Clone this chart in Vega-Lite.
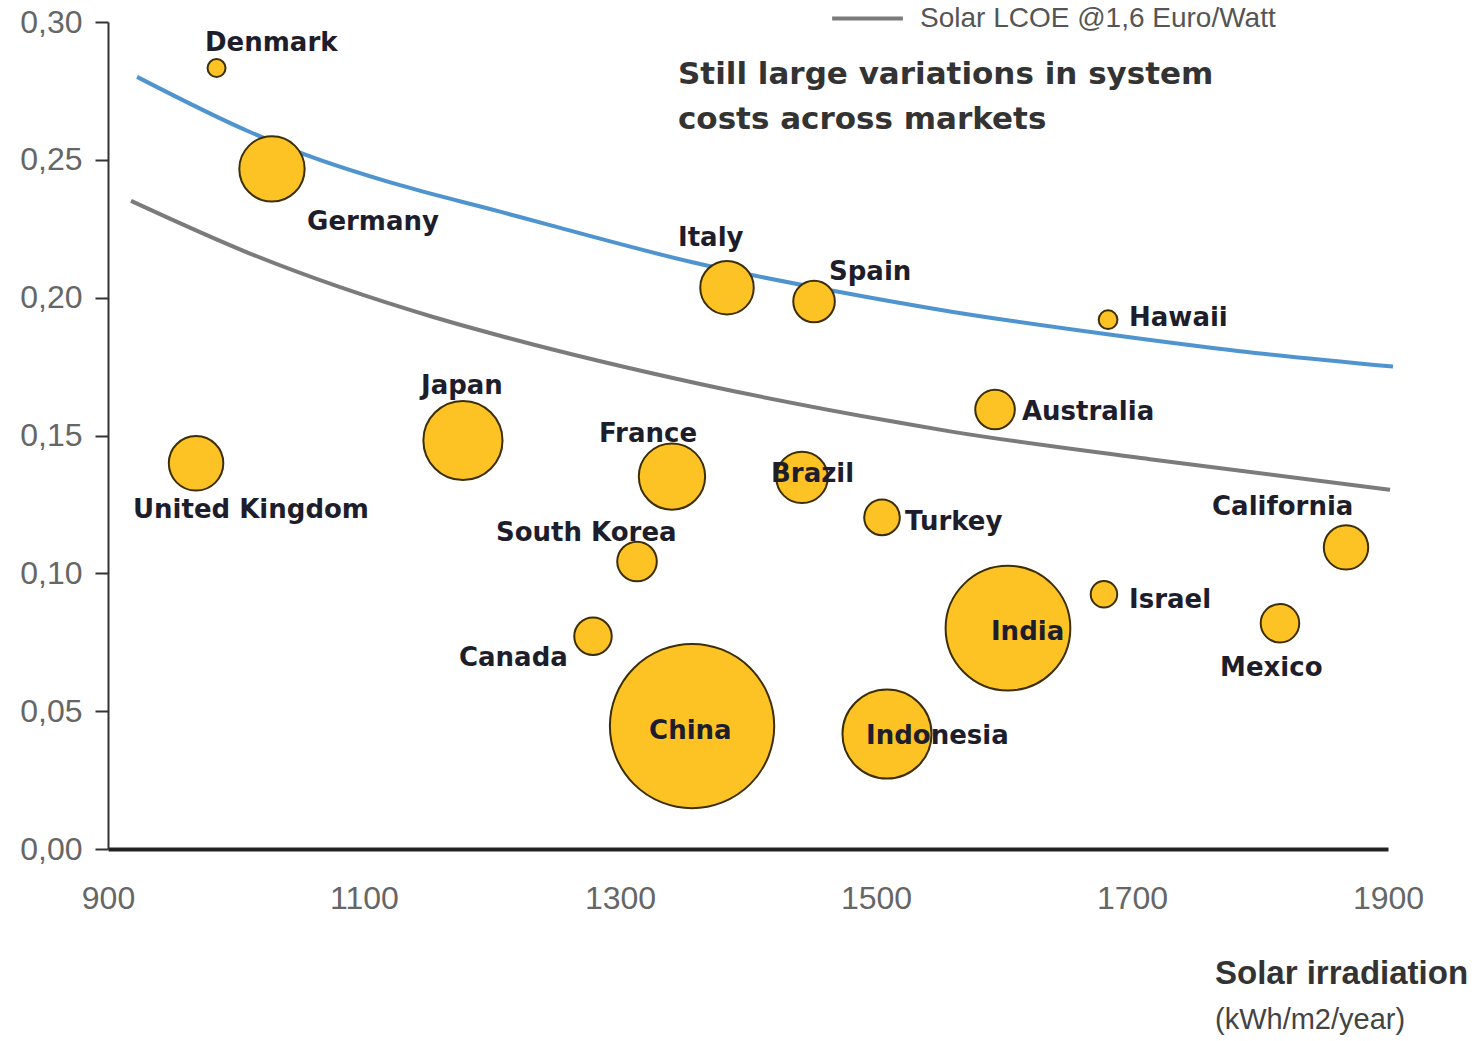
{
  "$schema": "https://vega.github.io/schema/vega-lite/v6.json",
  "width": 1280,
  "height": 827,
  "autosize": {"type": "none"},
  "padding": {"left": 108, "top": 22, "right": 96, "bottom": 192},
  "background": "white",
  "config": {"view": {"stroke": null}},
  "title": {
    "text": "Solar irradiation",
    "subtitle": "(kWh/m2/year)",
    "orient": "bottom",
    "anchor": "end",
    "align": "left",
    "frame": "group",
    "dx": -173,
    "offset": 44,
    "font": "Liberation Sans",
    "fontSize": 33,
    "fontWeight": "bold",
    "color": "#333333",
    "subtitleFont": "Liberation Sans",
    "subtitleFontSize": 29,
    "subtitleColor": "#444444",
    "subtitlePadding": 15
  },
  "datasets": {
    "markets": [
      {"country": "Denmark", "irr": 984.8, "lcoe": 0.2833, "market": 1.2, "lx": 975.8, "ly": 0.2924},
      {"country": "Germany", "irr": 1028.1, "lcoe": 0.2467, "market": 15.8, "lx": 1055.5, "ly": 0.2275},
      {"country": "United Kingdom", "irr": 968.8, "lcoe": 0.1399, "market": 11.0, "lx": 919.5, "ly": 0.1228},
      {"country": "Japan", "irr": 1177.3, "lcoe": 0.1482, "market": 23.2, "lx": 1144.5, "ly": 0.1681},
      {"country": "France", "irr": 1340.6, "lcoe": 0.1351, "market": 16.3, "lx": 1283.6, "ly": 0.1507},
      {"country": "South Korea", "irr": 1313.3, "lcoe": 0.1043, "market": 5.8, "lx": 1203.1, "ly": 0.1145},
      {"country": "Canada", "irr": 1278.9, "lcoe": 0.0772, "market": 5.2, "lx": 1174.2, "ly": 0.0692},
      {"country": "China", "irr": 1356.3, "lcoe": 0.0446, "market": 100, "lx": 1322.7, "ly": 0.0428},
      {"country": "Italy", "irr": 1383.6, "lcoe": 0.2036, "market": 10.6, "lx": 1345.3, "ly": 0.2217},
      {"country": "Spain", "irr": 1451.6, "lcoe": 0.1986, "market": 6.4, "lx": 1463.3, "ly": 0.2094},
      {"country": "Brazil", "irr": 1442.2, "lcoe": 0.1348, "market": 9.8, "lx": 1418.0, "ly": 0.1362},
      {"country": "Turkey", "irr": 1504.7, "lcoe": 0.1203, "market": 4.7, "lx": 1522.7, "ly": 0.1188},
      {"country": "Indonesia", "irr": 1508.6, "lcoe": 0.0417, "market": 29.4, "lx": 1492.2, "ly": 0.0409},
      {"country": "India", "irr": 1603.1, "lcoe": 0.0801, "market": 57.6, "lx": 1589.8, "ly": 0.0786},
      {"country": "Australia", "irr": 1593.0, "lcoe": 0.1594, "market": 5.8, "lx": 1614.0, "ly": 0.1587},
      {"country": "Hawaii", "irr": 1681.3, "lcoe": 0.1920, "market": 1.3, "lx": 1697.7, "ly": 0.1928},
      {"country": "Israel", "irr": 1678.1, "lcoe": 0.0924, "market": 2.6, "lx": 1697.7, "ly": 0.0902},
      {"country": "Mexico", "irr": 1815.6, "lcoe": 0.0819, "market": 5.5, "lx": 1768.8, "ly": 0.0656},
      {"country": "California", "irr": 1867.2, "lcoe": 0.1094, "market": 7.3, "lx": 1762.5, "ly": 0.1239}
    ],
    "curves": [
      {"series": "Solar LCOE (upper)", "irr": 922.7, "lcoe": 0.2801},
      {"series": "Solar LCOE (upper)", "irr": 1010.9, "lcoe": 0.2601},
      {"series": "Solar LCOE (upper)", "irr": 1053.1, "lcoe": 0.2521},
      {"series": "Solar LCOE (upper)", "irr": 1128.1, "lcoe": 0.2408},
      {"series": "Solar LCOE (upper)", "irr": 1206.3, "lcoe": 0.2312},
      {"series": "Solar LCOE (upper)", "irr": 1245.3, "lcoe": 0.2263},
      {"series": "Solar LCOE (upper)", "irr": 1362.5, "lcoe": 0.2122},
      {"series": "Solar LCOE (upper)", "irr": 1466.4, "lcoe": 0.2025},
      {"series": "Solar LCOE (upper)", "irr": 1557.8, "lcoe": 0.1950},
      {"series": "Solar LCOE (upper)", "irr": 1675.0, "lcoe": 0.1871},
      {"series": "Solar LCOE (upper)", "irr": 1784.4, "lcoe": 0.1806},
      {"series": "Solar LCOE (upper)", "irr": 1903.9, "lcoe": 0.1750},
      {"series": "Solar LCOE @1,6 Euro/Watt", "irr": 918.0, "lcoe": 0.2351},
      {"series": "Solar LCOE @1,6 Euro/Watt", "irr": 1010.9, "lcoe": 0.2160},
      {"series": "Solar LCOE @1,6 Euro/Watt", "irr": 1154.0, "lcoe": 0.1930},
      {"series": "Solar LCOE @1,6 Euro/Watt", "irr": 1206.3, "lcoe": 0.1862},
      {"series": "Solar LCOE @1,6 Euro/Watt", "irr": 1362.5, "lcoe": 0.1687},
      {"series": "Solar LCOE @1,6 Euro/Watt", "irr": 1518.8, "lcoe": 0.1546},
      {"series": "Solar LCOE @1,6 Euro/Watt", "irr": 1557.8, "lcoe": 0.1515},
      {"series": "Solar LCOE @1,6 Euro/Watt", "irr": 1714.0, "lcoe": 0.1414},
      {"series": "Solar LCOE @1,6 Euro/Watt", "irr": 1901.6, "lcoe": 0.1303}
    ],
    "notes": [
      {"irr": 1345.3, "lcoe": 0.2808, "note": "Still large variations in system"},
      {"irr": 1345.3, "lcoe": 0.2645, "note": "costs across markets"}
    ]
  },
  "encoding": {
    "x": {
      "field": "irr", "type": "quantitative",
      "scale": {"domain": [900, 1900], "nice": false, "zero": false},
      "axis": {
        "values": [900, 1100, 1300, 1500, 1700, 1900],
        "format": "d", "labelFlush": false,
        "title": null, "grid": false, "ticks": false,
        "domainColor": "#222222", "domainWidth": 4,
        "labelFont": "Liberation Sans", "labelFontSize": 32, "labelColor": "#666666",
        "labelPadding": 34
      }
    },
    "y": {
      "field": "lcoe", "type": "quantitative",
      "scale": {"domain": [0, 0.3], "nice": false},
      "axis": {
        "values": [0, 0.05, 0.1, 0.15, 0.2, 0.25, 0.3],
        "labelExpr": "replace(format(datum.value, '.2f'), '.', ',')",
        "labelFlush": false,
        "title": null, "grid": false,
        "tickSize": 13, "tickColor": "#333333", "tickWidth": 2,
        "domainColor": "#333333", "domainWidth": 2,
        "labelFont": "Liberation Sans", "labelFontSize": 32, "labelColor": "#666666",
        "labelPadding": 13
      }
    }
  },
  "layer": [
    {
      "data": {"name": "curves"},
      "mark": {"type": "line", "interpolate": "monotone", "strokeWidth": 4},
      "encoding": {
        "color": {
          "field": "series", "type": "nominal",
          "scale": {"domain": ["Solar LCOE (upper)", "Solar LCOE @1,6 Euro/Watt"], "range": ["#4f94cf", "#7b7b7b"]},
          "legend": {
            "orient": "none", "legendX": 722, "legendY": -41,
            "values": ["Solar LCOE @1,6 Euro/Watt"],
            "title": null, "padding": 0,
            "symbolType": "stroke", "symbolSize": 5000, "symbolStrokeWidth": 4,
            "labelFont": "Liberation Sans", "labelFontSize": 28, "labelColor": "#555555",
            "labelOffset": 15, "labelLimit": 600
          }
        }
      }
    },
    {
      "data": {"name": "markets"},
      "mark": {"type": "circle", "opacity": 1, "fill": "#FDC325", "stroke": "#3d2f05", "strokeWidth": 2},
      "encoding": {
        "size": {
          "field": "market", "type": "quantitative",
          "scale": {"domain": [0, 100], "range": [0, 27000]},
          "legend": null
        }
      }
    },
    {
      "data": {"name": "markets"},
      "mark": {"type": "text", "align": "left", "baseline": "middle", "font": "DejaVu Sans", "fontWeight": "bold", "fontSize": 26, "color": "#1d1d2b"},
      "encoding": {
        "x": {"field": "lx", "type": "quantitative"},
        "y": {"field": "ly", "type": "quantitative"},
        "text": {"field": "country", "type": "nominal"}
      }
    },
    {
      "data": {"name": "notes"},
      "mark": {"type": "text", "align": "left", "baseline": "middle", "font": "DejaVu Sans", "fontWeight": "bold", "fontSize": 31, "color": "#333333"},
      "encoding": {
        "text": {"field": "note", "type": "nominal"}
      }
    }
  ]
}
